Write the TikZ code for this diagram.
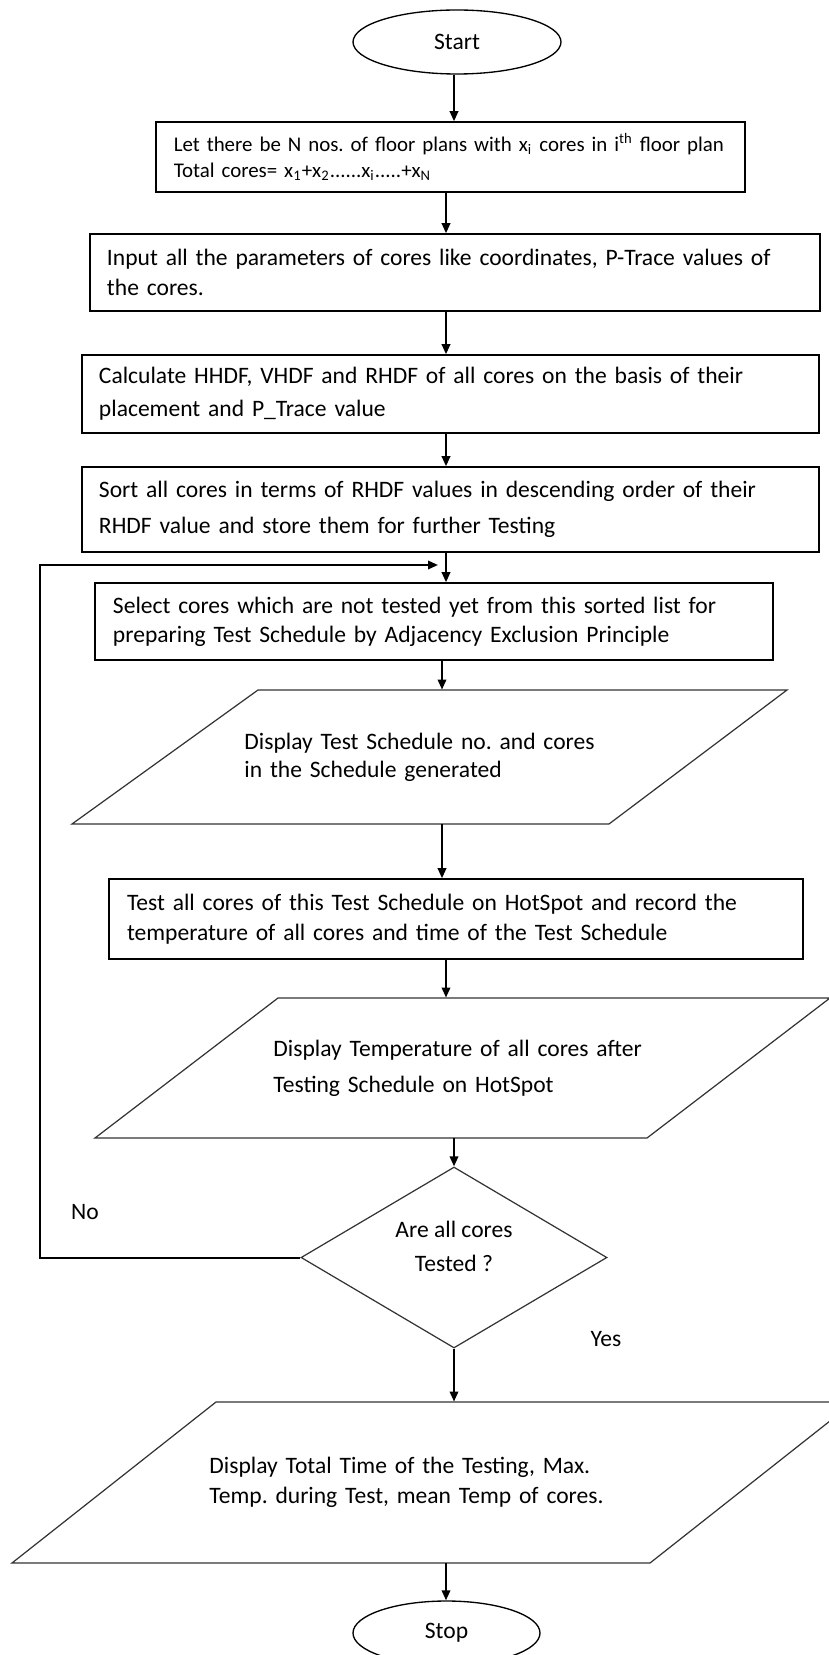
\documentclass[tikz,border=0pt]{standalone}
\usepackage{fontspec}
\setmainfont{Carlito}
\usetikzlibrary{shapes.geometric,arrows.meta}

\tikzset{
  flow/.style={line width=0.9pt,-{Triangle[length=4.5pt,width=3.8pt]}},
  proc/.style={draw,rectangle,line width=0.7pt,align=left,inner ysep=0pt,inner xsep=7.65pt},
  io/.style={line width=0.55pt,draw=black!80},
  iotext/.style={anchor=west,align=left,inner sep=0pt,text width=190pt},
  term/.style={draw,ellipse,line width=0.6pt,inner sep=0pt},
  decide/.style={draw=black!80,diamond,line width=0.55pt,inner sep=0pt,align=center},
  lbl/.style={inner sep=0pt}
}

\begin{document}
\frenchspacing
\begin{tikzpicture}[x=0.45pt,y=-0.45pt,font=\fontsize{10.6}{13.5}\selectfont]
    \useasboundingbox (0,0) rectangle (828,1655);

    \coordinate (spineA) at (454,0);
    \coordinate (spineC) at (446,0);
    \coordinate (spineD) at (442,0);
    \coordinate (loopleft) at (40,565);
    \coordinate (loophit) at (438,565);

    \node[term,minimum width=93.6pt,minimum height=28.8pt] (start) at (457,42) {Start};

    \node[proc,minimum width=265.05pt,minimum height=31.5pt,text width=255.05pt,inner xsep=5pt,
          font=\fontsize{9.4}{11.7}\selectfont] (plans) at (450.5,157)
        {\hspace*{3pt}Let there be N nos. of floor plans with x\textsubscript{i} cores in i\textsuperscript{th} floor plan\\
         \hspace*{3pt}Total cores= x\textsubscript{1}+x\textsubscript{2}......x\textsubscript{i}.....+x\textsubscript{N}};
    \node[proc,minimum width=328.5pt,minimum height=34.65pt,text width=313.2pt] (input) at (455,272.5)
        {Input all the parameters of cores like coordinates, P-Trace values of\\the cores.};
    \node[proc,minimum width=331.65pt,minimum height=35.1pt,text width=316.35pt,
          font=\fontsize{10.6}{14.85}\selectfont] (calc) at (450.5,394)
        {Calculate HHDF, VHDF and RHDF of all cores on the basis of their\\placement and P\_Trace value};
    \node[proc,minimum width=331.65pt,minimum height=38.25pt,text width=316.35pt,
          font=\fontsize{10.6}{16.2}\selectfont] (sort) at (450.5,509.5)
        {Sort all cores in terms of RHDF values in descending order of their\\RHDF value and store them for further Testing};
    \node[proc,minimum width=305.1pt,minimum height=34.65pt,text width=288.9pt,inner xsep=8.1pt,
          font=\fontsize{10.6}{13}\selectfont] (select) at (434,621.5)
        {Select cores which are not tested yet from this sorted list for\\preparing Test Schedule by Adjacency Exclusion Principle};

    % display of the schedule
    \node[iotext,minimum height=60.3pt,font=\fontsize{10.6}{12.6}\selectfont] (show1) at (244,757)
        {Display Test Schedule no. and cores\\in the Schedule generated};
    \draw[io] (258,690) -- (787,690) -- (609,824) -- (72,824) -- cycle;

    \node[proc,minimum width=312.3pt,minimum height=36pt,text width=296.1pt,inner xsep=8.1pt] (hotspot) at (456,919)
        {Test all cores of this Test Schedule on HotSpot and record the\\temperature of all cores and time of the Test Schedule};

    \node[iotext,minimum height=63pt,font=\fontsize{10.6}{16.2}\selectfont] (show2) at (273,1068)
        {Display Temperature of all cores after\\Testing Schedule on HotSpot};
    \draw[io] (278,998) -- (830,998) -- (647,1138) -- (95,1138) -- cycle;

    \node[decide,minimum width=137.7pt,minimum height=81.45pt,font=\fontsize{10.6}{15.3}\selectfont] (alldone) at (454,1257.5)
        {\raisebox{1.7pt}[0pt][0pt]{\begin{tabular}{@{}c@{}}Are all cores\\Tested ?\end{tabular}}};
    \node[lbl] (no) at (85,1212) {No};
    \node[lbl] (yes) at (606,1339) {Yes};

    \node[iotext,minimum height=72.45pt] (show3) at (209,1482.5)
        {Display Total Time of the Testing, Max.\\Temp. during Test, mean Temp of cores.};
    \draw[io] (216,1402) -- (854,1402) -- (650,1563) -- (12,1563) -- cycle;

    \node[term,minimum width=84.15pt,minimum height=28.8pt] (stop) at (446.5,1633) {Stop};

    % connectors
    \draw[flow] (start.south -| spineA) -- (plans.north -| spineA);
    \draw[flow] (plans.south -| spineC) -- (input.north -| spineC);
    \draw[flow] (input.south -| spineC) -- (calc.north -| spineC);
    \draw[flow] (calc.south -| spineC) -- (sort.north -| spineC);
    \draw[flow] (sort.south -| spineC) -- (select.north -| spineC);
    \draw[flow] (select.south -| spineD) -- (show1.north -| spineD);
    \draw[flow] (show1.south -| spineD) -- (hotspot.north -| spineD);
    \draw[flow] (hotspot.south -| spineC) -- (show2.north -| spineC);
    \draw[flow] (show2.south -| spineA) -- (alldone.north);
    \draw[flow] (alldone.south) -- (show3.north -| spineA);
    \draw[flow] (show3.south -| spineC) -- (stop.north -| spineC);
    \draw[flow] (alldone.west) -| (loopleft) -- (loophit);
\end{tikzpicture}
\end{document}
